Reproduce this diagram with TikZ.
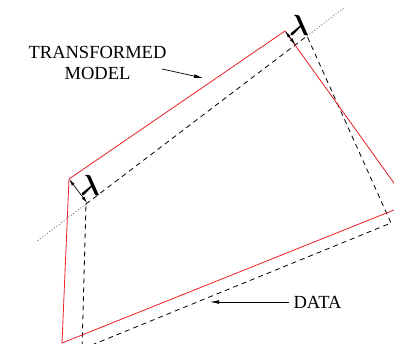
\documentclass[tikz,border=0pt]{standalone}
\usepackage{fontspec}
\setmainfont{Liberation Serif}
\usetikzlibrary{positioning,arrows.meta,calc}
\definecolor{ModelRed}{RGB}{235,30,35}
\definecolor{DotGray}{RGB}{110,110,110}
\tikzset{
  model/.style={draw=ModelRed,line width=0.8pt,line join=miter},
  data/.style={draw=black,line width=0.8pt,dash pattern=on 5pt off 4pt},
  guide/.style={draw=DotGray,line width=0.8pt,dash pattern=on 1pt off 2pt},
  pointer/.style={-{Latex[length=9pt,width=3.8pt]},line width=0.7pt},
  gap/.style={{Latex[length=7pt,width=3.2pt]}-{Latex[length=7pt,width=3.2pt]},line width=0.7pt},
  lbl/.style={font=\fontsize{18.5}{21}\selectfont,align=center,inner sep=4pt},
  lam/.style={font=\huge\boldmath,inner sep=0pt,scale=1.4,transform shape}
}

\begin{document}
\begin{tikzpicture}[x=1pt,y=-1pt]
  \useasboundingbox (0,0) rectangle (394,344);
  \clip (0,0) rectangle (394,344);
  % corners of the model and of the data
  \coordinate (m1) at (69,179);
  \coordinate (m2) at (285,31);
  \coordinate (m3) at (409,204);
  \coordinate (m4) at (62,343);
  \coordinate (d1) at (86,204);
  \coordinate (d2) at (307,36);
  \coordinate (d3) at (391,223);
  \coordinate (d4) at (82,349);
  \coordinate (f1) at ($(d1)!(m1)!(d2)$);
  \coordinate (f2) at ($(d1)!(m2)!(d2)$);

  \draw[guide] ($(d1)!-0.22!(d2)$) -- (d1);
  \draw[guide] (d2) -- ($(d1)!1.165!(d2)$);
  \draw[data] (d1) -- (d2) -- (d3) -- (d4) -- cycle;
  \draw[model] (m1) -- (m2) -- (m3) -- (m4) -- cycle;

  \draw[gap] (m1) -- (f1);
  \draw[gap] (m2) -- (f2);
  \node[lam] (lamlow) at (90,185) {$\lambda$};
  \node[lam] (lamtop) at (299,25) {$\lambda$};

  \node[lbl] (modellbl) at (97.5,63) {TRANSFORMED\\MODEL};
  \node[lbl] (datalbl) at (317.5,302) {DATA};
  \coordinate (modeltail) at (162,69);
  \coordinate (modeltip) at (203,78);
  \coordinate (datatip) at (210,302);
  \draw[pointer] (modeltail) -- (modeltip);
  \draw[pointer] (datalbl.west) -- (datatip);
\end{tikzpicture}
\end{document}
